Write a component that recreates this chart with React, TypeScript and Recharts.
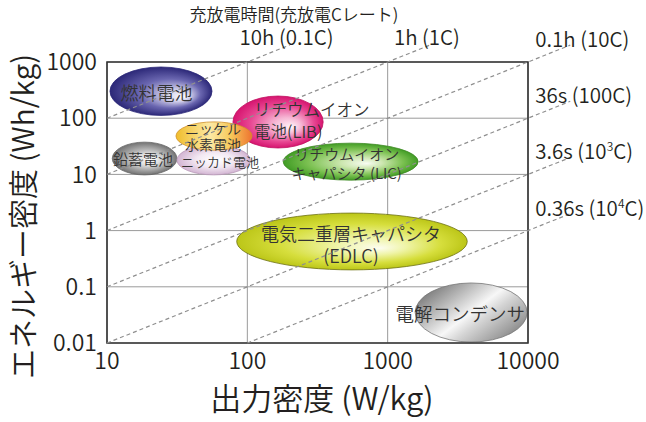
import React from 'react';
import {
  ComposedChart,
  XAxis,
  YAxis,
  CartesianGrid,
  ReferenceArea,
  ReferenceLine,
  ReferenceDot,
  Customized,
} from 'recharts';

// ---- axis ticks ----
const powerTicks = [10, 100, 1000, 10000];
const energyTicks = [0.01, 0.1, 1, 10, 100, 1000];

// ---- storage devices: power density (W/kg) and energy density (Wh/kg) ranges ----
const deviceKeys = ['fuel', 'lib', 'nimh', 'lead', 'nicd', 'lic', 'edlc', 'elcap'];
const powerMin = [10.5, 79, 31, 10.9, 31.5, 180, 84, 1570];
const powerMax = [56, 347, 108, 31.5, 105, 1650, 3690, 9860];
const energyMin = [112, 29.5, 27, 9.8, 9.8, 7.9, 0.2, 0.0104];
const energyMax = [815, 248, 86, 37.5, 33, 36, 2.05, 0.117];
const deviceLabels = [
  ['燃料電池'],
  ['リチウムイオン', '電池(LIB)'],
  ['ニッケル', '水素電池'],
  ['鉛蓄電池'],
  ['ニッカド電池'],
  ['リチウムイオン', 'キャパシタ (LIC)'],
  ['電気二重層キャパシタ', '(EDLC)'],
  ['電解コンデンサ'],
];

// ---- constant discharge-time lines: E = P × t (t in hours) ----
const dischargeHours = [10, 1, 0.1, 0.01, 0.001, 0.0001];
const dischargeLabels = [
  ['10h (0.1C)'],
  ['1h (1C)'],
  ['0.1h (10C)'],
  ['36s (100C)'],
  ['3.6s (10', '3', 'C)'],
  ['0.36s (10', '4', 'C)'],
];

const P_MIN = powerTicks[0];
const P_MAX = powerTicks[powerTicks.length - 1];
const E_MIN = energyTicks[0];
const E_MAX = energyTicks[energyTicks.length - 1];

const FONT = '"Noto Sans CJK JP", "Noto Sans", sans-serif';
const WEIGHT = 350;
const INK = '#231f20';

type Stop = [number, string];
type DeviceStyle = {
  gradient: 'radial' | 'linear' | 'diagonal';
  fx?: number;
  fy?: number;
  stops: Stop[];
  stroke: string;
  fontSize: number;
  anchor: 'middle' | 'start';
  dx: number;
  dy: number[];
};

const deviceStyles: DeviceStyle[] = [
  {
    gradient: 'radial', fx: 0.72, fy: 0.62,
    stops: [[0, '#ffffff'], [0.25, '#cfcde9'], [0.6, '#6a66b0'], [1, '#2c2878']],
    stroke: '#2c2878', fontSize: 18, anchor: 'middle', dx: -4.5, dy: [0.5],
  },
  {
    gradient: 'radial', fx: 0.65, fy: 0.6,
    stops: [[0, '#fff5f9'], [0.3, '#f6b8d5'], [0.7, '#e84893'], [1, '#d6146f']],
    stroke: '#c0105f', fontSize: 16.5, anchor: 'start', dx: -24, dy: [-13, 9],
  },
  {
    gradient: 'linear',
    stops: [[0, '#f0bd2c'], [0.45, '#fce9a4'], [0.72, '#f7c95a'], [1, '#ee7330']],
    stroke: '#d0902a', fontSize: 14, anchor: 'middle', dx: -1, dy: [-8.5, 7.5],
  },
  {
    gradient: 'radial', fx: 0.6, fy: 0.55,
    stops: [[0, '#ffffff'], [0.35, '#dedede'], [1, '#727272']],
    stroke: '#666666', fontSize: 15, anchor: 'middle', dx: -1.5, dy: [0],
  },
  {
    gradient: 'radial', fx: 0.55, fy: 0.5,
    stops: [[0, '#ffffff'], [0.5, '#f3e9f3'], [1, '#d2b4d2']],
    stroke: '#b898b8', fontSize: 13, anchor: 'middle', dx: 6.5, dy: [1],
  },
  {
    gradient: 'radial', fx: 0.62, fy: 0.55,
    stops: [[0, '#f8fcf3'], [0.3, '#cde7b1'], [0.7, '#7cc152'], [1, '#419c25']],
    stroke: '#3f8a25', fontSize: 15, anchor: 'middle', dx: -4, dy: [-8.5, 10.5],
  },
  {
    gradient: 'radial', fx: 0.62, fy: 0.62,
    stops: [[0, '#fdfdf0'], [0.3, '#eff4a8'], [0.7, '#d6de3c'], [1, '#bcc618']],
    stroke: '#6c7010', fontSize: 18, anchor: 'middle', dx: -1, dy: [-8.5, 13.5],
  },
  {
    gradient: 'diagonal',
    stops: [[0, '#6a6a6a'], [0.35, '#cdcdcd'], [0.5, '#f7f7f7'], [0.62, '#d6d6d6'], [0.85, '#a0a0a0'], [1, '#767676']],
    stroke: '#777777', fontSize: 18.5, anchor: 'middle', dx: -11, dy: [0],
  },
];

function renderDevice(props: any, i: number) {
  const { x, y, width, height } = props;
  const s = deviceStyles[i];
  const id = `grad-${deviceKeys[i]}`;
  const cx = x + width / 2;
  const cy = y + height / 2;
  const stops = s.stops.map(([o, c], k) => <stop key={k} offset={o} stopColor={c} />);
  let gradient;
  if (s.gradient === 'radial') {
    gradient = (
      <radialGradient id={id} cx={0.5} cy={0.5} r={0.5} fx={s.fx} fy={s.fy}>
        {stops}
      </radialGradient>
    );
  } else if (s.gradient === 'diagonal') {
    gradient = (
      <linearGradient id={id} x1={0} y1={0.15} x2={1} y2={0.85}>
        {stops}
      </linearGradient>
    );
  } else {
    gradient = (
      <linearGradient id={id} x1={0} y1={0.5} x2={1} y2={0.5}>
        {stops}
      </linearGradient>
    );
  }
  return (
    <g>
      <defs>{gradient}</defs>
      <ellipse
        cx={cx}
        cy={cy}
        rx={width / 2}
        ry={height / 2}
        fill={`url(#${id})`}
        stroke={s.stroke}
        strokeWidth={0.8}
      />
      {deviceLabels[i].map((line, k) => (
        <text
          key={k}
          x={cx + s.dx}
          y={cy + s.dy[k]}
          textAnchor={s.anchor}
          dominantBaseline="central"
          fontFamily={FONT}
          fontWeight={WEIGHT}
          fontSize={s.fontSize}
          fill="#333333"
        >
          {line}
        </text>
      ))}
    </g>
  );
}

function lineStart(t: number) {
  const p = Math.max(P_MIN, E_MIN / t);
  return { x: p, y: p * t };
}
function lineEnd(t: number) {
  // exit through the top or right frame, then run on a little past it
  const p = Math.min(P_MAX, E_MAX / t) * 2;
  return { x: p, y: p * t };
}

function renderTimeLabel(props: any, i: number) {
  const { cx, cy } = props;
  const parts = dischargeLabels[i];
  const onTop = i < 2;
  const x = onTop ? cx - 3 : cx - 35;
  const y = onTop ? cy : cy + 2;
  return (
    <text
      x={x}
      y={y}
      textAnchor={onTop ? 'middle' : 'start'}
      fontFamily={FONT}
      fontWeight={WEIGHT}
      fontSize={20.5}
      fill={INK}
    >
      {parts.length === 1 ? (
        parts[0]
      ) : (
        <>
          <tspan>{parts[0]}</tspan>
          <tspan fontSize={12} dy={-8}>{parts[1]}</tspan>
          <tspan dy={8}>{parts[2]}</tspan>
        </>
      )}
    </text>
  );
}

function ChartTitle() {
  return (
    <text x={294} y={21} textAnchor="middle" fontFamily={FONT} fontWeight={WEIGHT} fontSize={17} fill={INK}>
      充放電時間(充放電Cレート)
    </text>
  );
}

// EDLC sits beneath the dashed time lines; the rest are drawn over them
const drawOrderBelowLines = [6];
const drawOrderAboveLines = [3, 4, 0, 1, 2, 5, 7];

export default function App() {
  return (
    <div style={{ position: 'absolute', left: 0, top: 0, width: 646, height: 422, background: '#ffffff' }}>
      <ComposedChart
        width={646}
        height={422}
        margin={{ top: 62, right: 118, bottom: 0, left: 0 }}
      >
        <CartesianGrid stroke="#9a9a9a" strokeWidth={1} />
        <XAxis
          type="number"
          dataKey="p"
          scale="log"
          domain={[P_MIN, P_MAX]}
          ticks={powerTicks}
          allowDataOverflow
          height={79}
          axisLine={false}
          tickLine={false}
          tickMargin={4}
          tick={{ fontSize: 23, fill: INK, fontFamily: FONT, fontWeight: WEIGHT }}
          label={{
            content: (p: any) => {
              const vb = p.viewBox;
              return (
                <text
                  x={vb.x + vb.width / 2 + 4.5}
                  y={vb.y + 67}
                  textAnchor="middle"
                  fontFamily={FONT}
                  fontWeight={WEIGHT}
                  fontSize={31}
                  fill={INK}
                >
                  出力密度 (W/kg)
                </text>
              );
            },
          }}
        />
        <YAxis
          type="number"
          dataKey="e"
          scale="log"
          domain={[E_MIN, E_MAX]}
          ticks={energyTicks}
          allowDataOverflow
          width={107}
          axisLine={false}
          tickLine={false}
          tickMargin={4}
          tick={{ fontSize: 23, fill: INK, fontFamily: FONT, fontWeight: WEIGHT }}
          label={{
            content: (p: any) => {
              const vb = p.viewBox;
              const cx = vb.x + 23;
              const cy = vb.y + vb.height / 2 + 14;
              return (
                <text
                  x={cx}
                  y={cy}
                  dy="0.35em"
                  transform={`rotate(-90, ${cx}, ${cy})`}
                  textAnchor="middle"
                  fontFamily={FONT}
                  fontWeight={WEIGHT}
                  fontSize={30}
                  fill={INK}
                >
                  エネルギー密度 (Wh/kg)
                </text>
              );
            },
          }}
        />

        {drawOrderBelowLines.map((i) => (
          <ReferenceArea
            key={deviceKeys[i]}
            x1={powerMin[i]}
            x2={powerMax[i]}
            y1={energyMin[i]}
            y2={energyMax[i]}
            ifOverflow="visible"
            shape={(p: any) => renderDevice(p, i)}
          />
        ))}

        {dischargeHours.map((t) => (
          <ReferenceLine
            key={`t-${t}`}
            segment={[lineStart(t), lineEnd(t)]}
            ifOverflow="visible"
            stroke="#8f8f8f"
            strokeWidth={1.2}
            strokeDasharray="4 3"
          />
        ))}

        {drawOrderAboveLines.map((i) => (
          <ReferenceArea
            key={deviceKeys[i]}
            x1={powerMin[i]}
            x2={powerMax[i]}
            y1={energyMin[i]}
            y2={energyMax[i]}
            ifOverflow="visible"
            shape={(p: any) => renderDevice(p, i)}
          />
        ))}

        <ReferenceArea
          x1={P_MIN}
          x2={P_MAX}
          y1={E_MIN}
          y2={E_MAX}
          ifOverflow="visible"
          fill="none"
          stroke="#333333"
          strokeWidth={1.6}
        />

        {dischargeHours.map((t, i) => {
          const end = lineEnd(t);
          return (
            <ReferenceDot
              key={`lbl-${t}`}
              x={end.x}
              y={end.y}
              r={0}
              ifOverflow="visible"
              shape={(p: any) => renderTimeLabel(p, i)}
            />
          );
        })}

        <Customized component={ChartTitle} />
      </ComposedChart>
    </div>
  );
}
